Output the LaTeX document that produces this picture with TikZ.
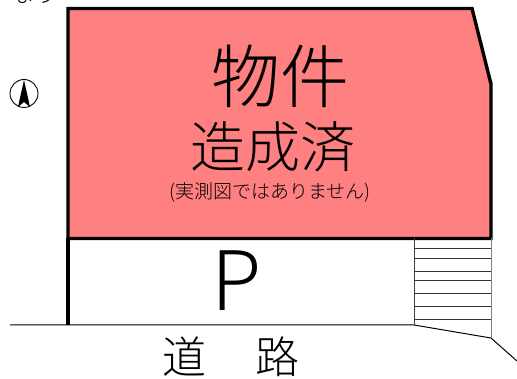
\documentclass[tikz,border=0pt]{standalone}
\usepackage{fontspec}
\newfontfamily\cjk{Noto Sans CJK JP Light}
\setmainfont{Liberation Sans}
\begin{document}
\begin{tikzpicture}[x=1pt,y=-1pt,
  wall/.style={line width=3.4pt,line join=miter},
  thin/.style={line width=1pt},
  label/.style={inner sep=0pt,text=black}]
\useasboundingbox (0,0) rectangle (517,379);
\fill[white] (0,0) rectangle (517,379);
\coordinate (tl) at (68,8.5);
\coordinate (tr) at (472,8.5);
\coordinate (r1) at (491,84);
\coordinate (br) at (491,238.5);
\coordinate (bl) at (68,238.5);
\coordinate (gl) at (68,325);
\coordinate (sl) at (414,238.5);
\coordinate (sb) at (414,325);
\coordinate (sr) at (491,338);
\draw[wall,fill={rgb,255:red,255;green,128;blue,128}] (tl) -- (tr) -- (r1) -- (br) -- (bl) -- cycle;
\draw[wall] (bl) -- (gl);
\draw[thin] (10,325) -- (sb) -- (sr) -- (517,361);
\draw[thin,black!75] (sl) -- (sb);
\draw[thin,black!50] (br) -- (sr);
\foreach \y in {248,258,271,280,293,306,319}{\draw[line width=0.8pt,black!80] (414,\y) -- (491,\y);}
\node[label,font=\cjk\fontsize{69}{69}\selectfont] (a) at (280.5,76) {物件};
\node[label,font=\cjk\fontsize{55}{55}\selectfont] (b) at (272.5,147) {造成済};
\node[label,font=\cjk\fontsize{19}{19}\selectfont] (c) at (270,192) {(実測図ではありません)};
\node[label,font=\cjk\fontsize{82}{82}\selectfont] (p) at (237,281) {P};
\node[label,font=\cjk\fontsize{44}{44}\selectfont] (r) at (184,357) {道};
\node[label,font=\cjk\fontsize{44}{44}\selectfont] (s) at (277,357) {路};
\node[draw,circle,minimum size=28pt,inner sep=0pt,line width=0.9pt] (n) at (24,93.5) {};
\fill (24,80) -- (30,107) -- (24,102) -- (18,107) -- cycle;
\node[label,font=\cjk\fontsize{24}{24}\selectfont,anchor=base west] (top) at (10,3) {なり};
\end{tikzpicture}
\end{document}
